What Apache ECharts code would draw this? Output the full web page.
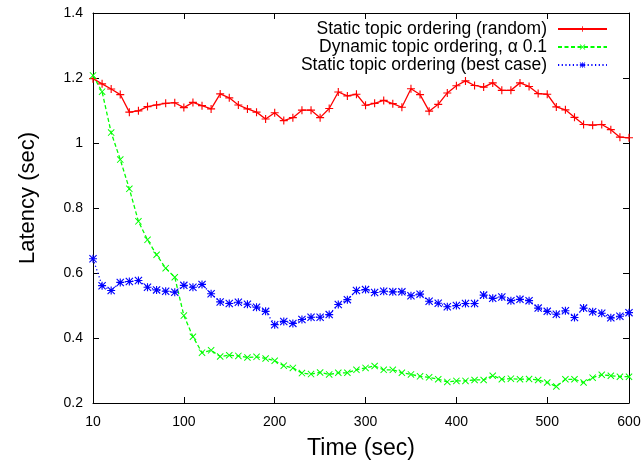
<!DOCTYPE html>
<html>
<head>
<meta charset="utf-8">
<script src="https://cdn.jsdelivr.net/npm/echarts@6/dist/echarts.min.js"></script>
<style>html,body{margin:0;padding:0;background:#fff;}#c{width:641px;height:462px;}</style>
</head>
<body>
<div id="c"></div>
<script>
const times = [10,20,30,40,50,60,70,80,90,100,110,120,130,140,150,160,170,180,190,200,
  210,220,230,240,250,260,270,280,290,300,310,320,330,340,350,360,370,380,390,400,
  410,420,430,440,450,460,470,480,490,500,510,520,530,540,550,560,570,580,590,600];

const staticRandom = [1.198,1.182,1.166,1.149,1.095,1.099,1.112,1.117,1.122,1.124,
  1.109,1.125,1.115,1.105,1.151,1.139,1.117,1.105,1.095,1.074,
  1.093,1.069,1.078,1.101,1.101,1.078,1.106,1.157,1.145,1.150,
  1.116,1.122,1.131,1.121,1.110,1.167,1.149,1.098,1.119,1.154,
  1.176,1.191,1.177,1.172,1.185,1.162,1.162,1.185,1.174,1.152,
  1.150,1.111,1.102,1.079,1.057,1.055,1.057,1.041,1.018,1.016];

const dynamicAlpha = [1.208,1.158,1.032,0.949,0.859,0.759,0.702,0.656,0.615,0.587,
  0.469,0.404,0.355,0.362,0.343,0.347,0.345,0.340,0.342,0.337,
  0.330,0.315,0.308,0.292,0.289,0.294,0.288,0.293,0.293,0.302,
  0.308,0.314,0.302,0.302,0.293,0.288,0.282,0.279,0.273,0.265,
  0.268,0.268,0.271,0.271,0.284,0.273,0.275,0.273,0.274,0.271,
  0.263,0.251,0.273,0.273,0.263,0.278,0.287,0.284,0.281,0.281];

const staticBest = [0.644,0.561,0.546,0.571,0.574,0.577,0.556,0.548,0.544,0.541,
  0.562,0.556,0.565,0.536,0.511,0.506,0.510,0.504,0.495,0.482,
  0.441,0.451,0.445,0.457,0.464,0.464,0.472,0.503,0.518,0.546,
  0.549,0.540,0.544,0.542,0.542,0.530,0.535,0.513,0.507,0.496,
  0.500,0.506,0.506,0.532,0.522,0.526,0.515,0.519,0.515,0.492,
  0.482,0.473,0.484,0.463,0.492,0.481,0.476,0.462,0.467,0.478];

const seriesNames = ['Static topic ordering (random)', 'Dynamic topic ordering, \u03b1 0.1', 'Static topic ordering (best case)'];
const xTickIndex = [0,10,20,30,40,50,59];
const xTickLabels = ['10','100','200','300','400','500','600'];
const yTicks = [0.2,0.4,0.6,0.8,1.0,1.2,1.4];

const FONT = "'Liberation Sans', Arial, Helvetica, sans-serif";
const symPlus = 'path://M0,4.3L10,4.3L10,5.7L0,5.7Z M4.3,0L5.7,0L5.7,10L4.3,10Z';
const symCross = 'path://M0,1L1,0L10,9L9,10Z M9,0L10,1L1,10L0,9Z';
const symStar = 'path://M0,4.3L10,4.3L10,5.7L0,5.7Z M4.3,0L5.7,0L5.7,10L4.3,10Z M0,1L1,0L10,9L9,10Z M9,0L10,1L1,10L0,9Z';

const tickShown = (idx) => xTickIndex.indexOf(idx) >= 0;

const chart = echarts.init(document.getElementById('c'), null, {renderer: 'canvas'});
const axisLine = {show: true, lineStyle: {color: '#000', width: 1}};
const yMin = yTicks[0], yMax = yTicks[yTicks.length - 1], yStep = yTicks[1] - yTicks[0];

chart.setOption({
  animation: false,
  backgroundColor: '#fff',
  textStyle: {fontFamily: FONT},
  grid: {left: 93, right: 12, top: 13, bottom: 59, containLabel: false, outerBoundsMode: 'none'},
  legend: {
    orient: 'vertical', align: 'right', right: 33, top: 20, itemGap: 0, padding: 0,
    itemWidth: 49, itemHeight: 7,
    textStyle: {fontFamily: FONT, fontSize: 17.5, color: '#000', padding: [0, 6, 0, 0], lineHeight: 17.8},
    data: seriesNames
  },
  xAxis: [{
    type: 'category', data: times, boundaryGap: false, position: 'bottom',
    axisLine: axisLine,
    axisTick: {show: true, inside: true, length: 6, interval: (i) => tickShown(i), lineStyle: {color: '#000'}},
    axisLabel: {interval: (i) => tickShown(i), margin: 12, fontSize: 14, color: '#000', fontFamily: FONT,
      formatter: (v, i) => xTickLabels[xTickIndex.indexOf(i)]},
    splitLine: {show: false},
    name: 'Time (sec)', nameLocation: 'middle', nameGap: 34,
    nameTextStyle: {fontSize: 23, color: '#000', fontFamily: FONT}
  }, {
    type: 'category', data: times, boundaryGap: false, position: 'top',
    axisLine: axisLine,
    axisTick: {show: true, inside: true, length: 6, interval: (i) => tickShown(i), lineStyle: {color: '#000'}},
    axisLabel: {show: false}, splitLine: {show: false}
  }],
  yAxis: [{
    type: 'value', min: yMin, max: yMax, interval: yStep, position: 'left',
    axisLine: axisLine,
    axisTick: {show: true, inside: true, length: 6, lineStyle: {color: '#000'}},
    axisLabel: {margin: 10, fontSize: 14, color: '#000', fontFamily: FONT},
    splitLine: {show: false},
    name: 'Latency (sec)', nameLocation: 'middle', nameGap: 54,
    nameTextStyle: {fontSize: 22, color: '#000', fontFamily: FONT, padding: [0, 0, 0, 20]}
  }, {
    type: 'value', min: yMin, max: yMax, interval: yStep, position: 'right',
    axisLine: axisLine,
    axisTick: {show: true, inside: true, length: 6, lineStyle: {color: '#000'}},
    axisLabel: {show: false}, splitLine: {show: false}
  }],
  series: [{
    name: seriesNames[0], type: 'line', data: staticRandom,
    symbol: symPlus, symbolSize: 8, showAllSymbol: true,
    lineStyle: {color: '#ff0000', width: 1.3, type: 'solid'},
    itemStyle: {color: '#ff0000'}, z: 3
  }, {
    name: seriesNames[1], type: 'line', data: dynamicAlpha,
    symbol: symCross, symbolSize: 7, showAllSymbol: true,
    lineStyle: {color: '#00ff00', width: 1.3, type: [4, 2.5]},
    itemStyle: {color: '#00ff00'}, z: 4
  }, {
    name: seriesNames[2], type: 'line', data: staticBest,
    symbol: symStar, symbolSize: 8, showAllSymbol: true,
    lineStyle: {color: '#0000ff', width: 1.3, type: [1.2, 2.5]},
    itemStyle: {color: '#0000ff'}, z: 5
  }]
});
</script>
</body>
</html>
